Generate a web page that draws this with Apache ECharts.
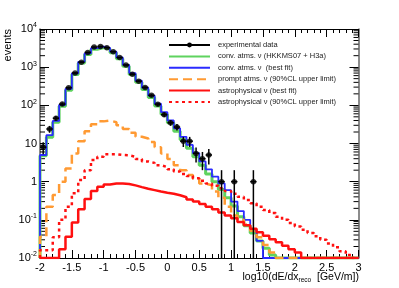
<!DOCTYPE html>
<html><head><meta charset="utf-8">
<script src="https://cdn.jsdelivr.net/npm/echarts@6/dist/echarts.min.js"></script>
<style>html,body{margin:0;padding:0;background:#fff}#c{width:399px;height:288px}</style>
</head><body><div id="c"></div>
<script>
// binning: 50 bins of width 0.1 from -2 to 3
const binLo = -2, binW = 0.1, nBins = 50;
const xTickValues = [-2, -1.5, -1, -0.5, 0, 0.5, 1, 1.5, 2, 2.5, 3];
const xTickLabels = ['-2', '-1.5', '-1', '-0.5', '0', '0.5', '1', '1.5', '2', '2.5', '3'];
const yTickExponents = [-2, -1, 0, 1, 2, 3, 4];

const dataVals = [8, 24, 46, 108, 290, 705, 1350, 2440, 3370, 3500,
  3240, 2550, 1780, 1140, 650, 430, 295, 183, 107, 57,
  35, 27, 11.5, 11.5, 5.5, 4, 5, 0, 1, 0,
  1, 0, 0, 1, 0, 0, 0, 0, 0, 0,
  0, 0, 0, 0, 0, 0, 0, 0, 0, 0];
const dataErr = [2.8, 4.9, 6.8, 10.4, 17, 26.5, 36.7, 49, 58, 59,
  57, 50, 42, 34, 25.5, 20.7, 17.2, 13.5, 10.3, 7.6,
  5.9, 5.2, 3.4, 3.4, 2.3, 2, 2.2, 0, 1, 0,
  1, 0, 0, 1, 0, 0, 0, 0, 0, 0,
  0, 0, 0, 0, 0, 0, 0, 0, 0, 0];
const convH3a = [4.8, 14.5, 36, 95, 250, 640, 1280, 2150, 2950, 3250,
  3000, 2380, 1650, 1050, 640, 400, 260, 160, 96, 58,
  35, 21, 12.5, 7.5, 4.5, 2.7, 1.6, 1.0, 0.62, 0.38,
  0.23, 0.12, 0.07, 0.045, 0.028, 0.018, 0.012, 0, 0, 0,
  0, 0, 0, 0, 0, 0, 0, 0, 0, 0];
const convFit = [5, 16.5, 39, 103, 270, 690, 1380, 2300, 3150, 3450,
  3200, 2550, 1800, 1150, 700, 440, 290, 180, 110, 66,
  40, 25, 15, 9.2, 5.6, 3.4, 2.1, 1.35, 0.9, 0.6,
  0.3, 0.17, 0.1, 0.055, 0.028, 0, 0, 0, 0, 0,
  0, 0, 0, 0, 0, 0, 0, 0, 0, 0];
const promptUL = [0.036, 0.22, 0.45, 1.0, 2.2, 5.5, 11.5, 21, 32, 38,
  40, 36, 30, 24, 19, 15, 13.5, 11, 8, 5.5,
  3.9, 2.7, 2.0, 1.5, 1.2, 0.9, 0.8, 0.55, 0.38, 0.22,
  0.13, 0.1, 0.075, 0.052, 0.035, 0.022, 0.014, 0, 0, 0,
  0, 0, 0, 0, 0, 0, 0, 0, 0, 0];
const astroFit = [0, 0, 0, 0.017, 0.036, 0.085, 0.19, 0.35, 0.57, 0.74,
  0.84, 0.9, 0.9, 0.87, 0.8, 0.72, 0.65, 0.6, 0.55, 0.51,
  0.48, 0.44, 0.39, 0.34, 0.3, 0.26, 0.22, 0.19, 0.155, 0.13,
  0.11, 0.088, 0.072, 0.058, 0.047, 0.038, 0.031, 0.026, 0.021, 0.017,
  0.014, 0, 0, 0, 0, 0, 0, 0, 0, 0];
const astroUL = [0.016, 0.016, 0.035, 0.1, 0.22, 0.5, 1.1, 2.0, 3.7, 4.5,
  5.2, 5.2, 5.0, 4.9, 4.5, 3.9, 3.4, 3.1, 2.7, 2.4,
  2.1, 1.85, 1.6, 1.4, 1.22, 1.05, 0.9, 0.78, 0.67, 0.57,
  0.48, 0.4, 0.33, 0.27, 0.22, 0.18, 0.15, 0.12, 0.1, 0.082,
  0.067, 0.055, 0.045, 0.037, 0.03, 0.024, 0.019, 0.015, 0.012, 0];

const names = ['experimental data', 'conv. atms. ν (HKKMS07 + H3a)', 'conv. atms. ν  (best fit)',
  'prompt atms. ν (90%CL upper limit)', 'astrophysical ν (best fit)', 'astrophysical ν (90%CL upper limit)'];

const YMIN = 0.01, YMAX = 10000;
function hist(vals) {
  const pts = [[binLo, YMIN]];
  vals.forEach((v, i) => {
    const y = Math.max(v, YMIN);
    pts.push([binLo + i * binW, y], [binLo + (i + 1) * binW, y]);
  });
  pts.push([binLo + nBins * binW, YMIN]);
  return pts;
}
const centers = dataVals.map((v, i) => binLo + (i + 0.5) * binW);
const dataPts = [], errPts = [];
dataVals.forEach((v, i) => { if (v > 0) { dataPts.push([centers[i], v]); errPts.push([centers[i], v, dataErr[i]]); } });
const minorVals = [];
for (let k = -2; k <= 3; k++) for (let m = 2; m <= 9; m++) minorVals.push([0, m * Math.pow(10, k)]);

const FONT = 'Liberation Sans, Arial, Helvetica, sans-serif';
function yFmt(v) {
  const e = Math.round(Math.log10(v));
  if (yTickExponents.indexOf(e) < 0) return '';
  if (e === 0) return '{b|1}';
  if (e === 1) return '{b|10}';
  return '{b|10}{s|' + e + '}';
}
function xFmt(v) {
  for (let i = 0; i < xTickValues.length; i++) if (Math.abs(xTickValues[i] - v) < 1e-6) return xTickLabels[i];
  return '';
}
const chart = echarts.init(document.getElementById('c'), null, {renderer: 'canvas'});
const axisCommonX = {type: 'value', min: -2, max: 3, interval: 0.5};
const legendData = names.map((n, i) => i === 0 ? {name: n} : {name: n, itemStyle: {opacity: 0}});
chart.setOption({
  animation: false,
  backgroundColor: '#fff',
  grid: {left: 40, right: 40.5, top: 29, bottom: 30},
  xAxis: [
    Object.assign({}, axisCommonX, {
      position: 'bottom',
      axisLine: {onZero: false, lineStyle: {color: '#000', width: 1}},
      axisTick: {inside: true, length: 8, lineStyle: {color: '#000'}},
      minorTick: {show: true, splitNumber: 5, length: 4, lineStyle: {color: '#000'}},
      axisLabel: {formatter: xFmt, color: '#000', fontSize: 11, fontFamily: FONT, margin: 4},
      splitLine: {show: false}
    }),
    Object.assign({}, axisCommonX, {
      position: 'top',
      axisLine: {onZero: false, lineStyle: {color: '#000', width: 1}},
      axisTick: {inside: true, length: 8, lineStyle: {color: '#000'}},
      minorTick: {show: true, splitNumber: 5, length: 4, lineStyle: {color: '#000'}},
      axisLabel: {show: false},
      splitLine: {show: false}
    })
  ],
  yAxis: [
    {type: 'log', logBase: 10, min: YMIN, max: YMAX, position: 'left',
      axisLine: {show: true, onZero: false, lineStyle: {color: '#666', width: 1.5}},
      axisTick: {inside: true, length: 9, lineStyle: {color: '#000'}},
      axisLabel: {formatter: yFmt, margin: 3, color: '#000', fontFamily: FONT,
        rich: {b: {fontSize: 11, fontFamily: FONT, color: '#000', lineHeight: 14},
               s: {fontSize: 7, fontFamily: FONT, color: '#000', verticalAlign: 'top', lineHeight: 14, padding: [0, 0, 6, 0]}}},
      splitLine: {show: false}},
    {type: 'log', logBase: 10, min: YMIN, max: YMAX, position: 'right',
      axisLine: {show: true, onZero: false, lineStyle: {color: '#666', width: 1.5}},
      axisTick: {inside: true, length: 9, lineStyle: {color: '#000'}},
      axisLabel: {show: false},
      splitLine: {show: false}}
  ],
  legend: {
    orient: 'vertical', left: 168, top: 41, itemWidth: 41, itemHeight: 6, itemGap: 3.4,
    padding: 0, selectedMode: false,
    textStyle: {fontSize: 7.5, fontFamily: FONT, color: '#222', padding: [0, 0, 0, 3]},
    data: legendData
  },
  graphic: [
    {type: 'text', right: 40, top: 272, style: {
      rich: {a: {fontSize: 10.5, fontFamily: FONT, fill: '#000'}, r: {fontSize: 6.5, fontFamily: FONT, fill: '#000', padding: [6, 0, 0, 0]}},
      text: '{a|log10(dE/dx}{r|reco}{a|  [GeV/m])}'}},
    {type: 'text', x: 8, y: 29, rotation: Math.PI / 2, style: {
      text: 'events', fontSize: 11, fontFamily: FONT, fill: '#000', align: 'right', verticalAlign: 'middle'}}
  ],
  series: [
    {type: 'custom', silent: true, xAxisIndex: 0, yAxisIndex: 0, data: minorVals, z: 1,
      renderItem: function (params, api) {
        const y = api.coord([0, api.value(1)])[1];
        const cs = params.coordSys;
        return {type: 'group', children: [
          {type: 'line', shape: {x1: cs.x, y1: y, x2: cs.x + 5, y2: y}, style: {stroke: '#000', lineWidth: 1}},
          {type: 'line', shape: {x1: cs.x + cs.width - 5, y1: y, x2: cs.x + cs.width, y2: y}, style: {stroke: '#000', lineWidth: 1}}
        ]};
      }},
    {name: names[1], type: 'line', data: hist(convH3a), symbol: 'none', showSymbol: false, clip: true, z: 2,
      lineStyle: {color: '#5fd35f', width: 3}, itemStyle: {color: '#5fd35f'}},
    {name: names[2], type: 'line', data: hist(convFit), symbol: 'none', showSymbol: false, clip: true, z: 3,
      lineStyle: {color: '#2b2bff', width: 1.8}, itemStyle: {color: '#2b2bff'}},
    {name: names[3], type: 'line', data: hist(promptUL), symbol: 'none', showSymbol: false, clip: true, z: 4,
      lineStyle: {color: '#ff9a33', width: 2.5, type: [9, 5]}, itemStyle: {color: '#ff9a33'}},
    {name: names[4], type: 'line', data: hist(astroFit), symbol: 'none', showSymbol: false, clip: true, z: 5,
      lineStyle: {color: '#ff1010', width: 2.5}, itemStyle: {color: '#ff1010'}},
    {name: names[5], type: 'line', data: hist(astroUL), symbol: 'none', showSymbol: false, clip: true, z: 5,
      lineStyle: {color: '#ff1010', width: 2.5, type: [3, 3.5]}, itemStyle: {color: '#ff1010'}},
    {name: names[0], type: 'line', data: [], symbol: 'circle', symbolSize: 5, z: 6,
      lineStyle: {color: '#000', width: 1.5}, itemStyle: {color: '#000'}},
    {type: 'custom', silent: true, data: errPts, z: 7, clip: true,
      renderItem: function (params, api) {
        const x = api.value(0), v = api.value(1), e = api.value(2);
        const cs = params.coordSys;
        const bottom = cs.y + cs.height;
        const pc = api.coord([x, v]);
        const up = api.coord([x, v + e])[1];
        const lo = v - e > 0 ? Math.min(api.coord([x, v - e])[1], bottom) : bottom;
        const xl = api.coord([x - binW / 2, v])[0], xr = api.coord([x + binW / 2, v])[0];
        return {type: 'group', children: [
          {type: 'line', shape: {x1: pc[0], y1: up, x2: pc[0], y2: lo}, style: {stroke: '#000', lineWidth: 1.5}},
          {type: 'line', shape: {x1: xl, y1: pc[1], x2: xr, y2: pc[1]}, style: {stroke: '#000', lineWidth: 1.5}}
        ]};
      }},
    {type: 'scatter', data: dataPts, symbol: 'circle', symbolSize: 5.5, z: 8, silent: true,
      itemStyle: {color: '#000'}}
  ]
});
</script></body></html>
